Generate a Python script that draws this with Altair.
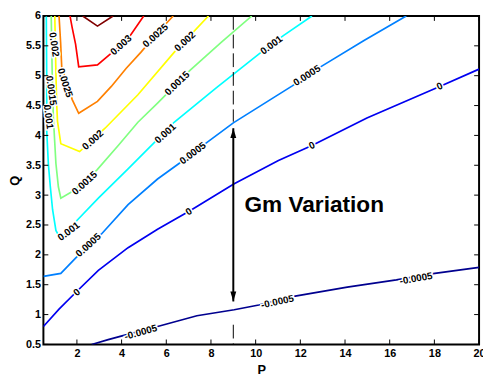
import altair as alt
import pandas as pd

# ---- contour levels and colours ----
levels = ["-0.0005", "0", "0.0005", "0.001", "0.0015", "0.002", "0.0025", "0.003", "0.0035"]
colors = ["#00008f", "#0000f0", "#0080ff", "#00ffff", "#80ff80", "#ffff00", "#ff8000", "#ff0000", "#800000"]

# ---- contour polylines (P, Q) ----
c_m0005_P = [2.66, 3.40, 3.98, 5.61, 7.37, 9.04, 10.14, 11.77, 14.10, 16.30, 18.02, 20.0]
c_m0005_Q = [0.50, 0.58, 0.64, 0.80, 0.98, 1.08, 1.16, 1.31, 1.46, 1.58, 1.69, 1.79]

c_0_P = [0.5, 1.20, 2.00, 2.96, 4.29, 5.61, 7.06, 9.04, 11.02, 12.52, 14.98, 18.24, 20.0]
c_0_Q = [0.80, 1.09, 1.39, 1.74, 2.12, 2.43, 2.74, 3.19, 3.58, 3.83, 4.29, 4.82, 5.11]

c_0005_P = [0.5, 1.28, 1.95, 3.10, 4.29, 5.61, 6.57, 7.81, 9.0, 10.32, 11.64, 12.96, 14.85, 16.74]
c_0005_Q = [1.64, 1.69, 1.95, 2.35, 2.84, 3.27, 3.53, 3.88, 4.21, 4.52, 4.83, 5.16, 5.59, 6.0]

c_001_P = [0.63, 0.65, 0.65, 0.72, 0.81, 0.91, 1.06, 1.28, 2.01, 2.96, 4.29, 5.46, 6.35, 8.25, 10.14, 11.24, 12.52]
c_001_Q = [6.0, 4.90, 4.07, 3.53, 3.14, 2.76, 2.41, 2.26, 2.58, 2.95, 3.44, 3.88, 4.22, 4.80, 5.36, 5.67, 6.0]

c_0015_P = [0.85, 0.90, 0.95, 0.98, 1.06, 1.17, 1.28, 1.79, 2.89, 3.85, 4.73, 5.61, 7.06, 8.47, 9.83]
c_0015_Q = [6.0, 4.90, 4.24, 4.07, 3.53, 3.14, 2.95, 3.06, 3.42, 3.83, 4.22, 4.54, 5.09, 5.56, 6.0]

c_002_P = [1.01, 1.05, 1.09, 1.13, 1.28, 2.12, 3.26, 4.73, 6.35, 7.89]
c_002_Q = [6.0, 5.23, 4.57, 4.24, 3.86, 3.73, 4.12, 4.68, 5.39, 6.0]

c_0025_P = [1.20, 1.27, 1.32, 1.56, 1.79, 2.08, 2.92, 3.54, 4.20, 4.86, 5.61, 6.31]
c_0025_Q = [6.0, 5.56, 5.15, 4.87, 4.60, 4.37, 4.57, 4.82, 5.12, 5.39, 5.72, 6.0]

c_003_P = [1.69, 1.79, 1.94, 2.08, 2.92, 3.49, 4.29, 4.99]
c_003_Q = [6.0, 5.80, 5.53, 5.15, 5.18, 5.36, 5.62, 6.0]

c_0035_P = [2.26, 2.92, 3.62]
c_0035_Q = [6.0, 5.83, 6.0]

contours = [
    ("-0.0005", c_m0005_P, c_m0005_Q),
    ("0", c_0_P, c_0_Q),
    ("0.0005", c_0005_P, c_0005_Q),
    ("0.001", c_001_P, c_001_Q),
    ("0.0015", c_0015_P, c_0015_Q),
    ("0.002", c_002_P, c_002_Q),
    ("0.0025", c_0025_P, c_0025_Q),
    ("0.003", c_003_P, c_003_Q),
    ("0.0035", c_0035_P, c_0035_Q),
]

# ---- contour labels ----
label_text = ["0.003", "0.0025", "0.002", "0.0025", "0.002", "0.0015", "0.001",
              "0.002", "0.0015", "0.0015", "0.001", "0.001", "0.001",
              "0.0005", "0.0005", "0.0005", "0", "0", "0", "0",
              "-0.0005", "-0.0005", "-0.0005"]
label_P = [3.98, 5.52, 6.84, 1.46, 0.97, 0.84, 0.72,
           2.72, 6.49, 2.35, 1.64, 5.96, 10.71,
           2.52, 7.19, 12.30, 2.00, 7.01, 12.52, 18.24,
           4.86, 10.98, 17.18]
label_Q = [5.51, 5.67, 5.57, 4.88, 5.52, 4.75, 4.31,
           3.92, 4.87, 3.20, 2.39, 4.03, 5.51,
           2.16, 3.70, 5.00, 1.37, 2.72, 3.83, 4.82,
           0.70, 1.21, 1.60]
label_angle = [318, 318, 318, 72, 82, 82, 82,
               318, 316, 318, 323, 318, 323,
               318, 323, 327, 320, 327, 335, 335,
               344, 348, 350]

x_ticks = [2, 4, 6, 8, 10, 12, 14, 16, 18, 20]
y_ticks = [0.5, 1, 1.5, 2, 2.5, 3, 3.5, 4, 4.5, 5, 5.5, 6]

# annotation
marker_P = 9
dash_top = [6.0, 4.23]
dash_bottom = [0.83, 0.5]
arrow_Q = [4.12, 1.22]
note_text = "Gm Variation"
note_P, note_Q = 9.5, 2.71

# ---- build tables ----
rows = []
for lev, ps, qs in contours:
    for i, (p, q) in enumerate(zip(ps, qs)):
        rows.append({"level": lev, "i": i, "P": p, "Q": q})
df = pd.DataFrame(rows)

lab = pd.DataFrame({"t": label_text, "P": label_P, "Q": label_Q, "a": label_angle})

W, H = 443, 334
FONT = "Liberation Sans"

xs = alt.Scale(domain=[0.5, 20], nice=False, zero=False)
ys = alt.Scale(domain=[0.5, 6], nice=False, zero=False)
xaxis = alt.Axis(values=x_ticks, title="P", labelFont=FONT, labelFontSize=11,
                 labelFontWeight="bold", labelColor="black", tickSize=0, domain=False,
                 grid=False, labelPadding=3, titleFont=FONT, titleFontSize=13,
                 titleFontWeight="bold", titleColor="black", titlePadding=6,
                 labelFlush=False, labelOverlap=False)
yaxis = alt.Axis(values=y_ticks, title="Q", format="~g", labelFont=FONT, labelFontSize=11,
                 labelFontWeight="bold", labelColor="black", tickSize=0, domain=False,
                 grid=False, labelPadding=3, titleFont=FONT, titleFontSize=13,
                 titleFontWeight="bold", titleColor="black", titlePadding=4,
                 labelFlush=False, labelOverlap=False)
X = alt.X("P:Q", scale=xs, axis=xaxis)
Y = alt.Y("Q:Q", scale=ys, axis=yaxis)

lines = alt.Chart(df).mark_line(strokeWidth=1.7, clip=True).encode(
    x=X, y=Y,
    color=alt.Color("level:N", scale=alt.Scale(domain=levels, range=colors), legend=None),
    detail="level:N",
    order="i:Q",
)

halo = alt.Chart(lab).mark_text(font=FONT, fontSize=10, fontWeight="bold", color="white",
                                stroke="white", strokeWidth=3).encode(
    x=X, y=Y, text="t:N", angle=alt.Angle("a:Q", scale=None))
labels = alt.Chart(lab).mark_text(font=FONT, fontSize=10, fontWeight="bold", color="black").encode(
    x=X, y=Y, text="t:N", angle=alt.Angle("a:Q", scale=None))

dash_df = pd.DataFrame({"P": [marker_P, marker_P], "Q": [dash_top[0], dash_bottom[0]],
                        "Q2": [dash_top[1], dash_bottom[1]]})
dashes = alt.Chart(dash_df).mark_rule(color="black", strokeWidth=1, strokeDash=[14, 5]).encode(
    x=X, y=Y, y2="Q2:Q")

arrow_df = pd.DataFrame({"P": [marker_P], "Q": [arrow_Q[0]], "Q2": [arrow_Q[1]]})
shaft = alt.Chart(arrow_df).mark_rule(color="black", strokeWidth=2).encode(x=X, y=Y, y2="Q2:Q")

head_df = pd.DataFrame({"P": [marker_P, marker_P], "Q": arrow_Q,
                        "s": ["M0,0L0.3,1L-0.3,1Z", "M0,0L0.3,-1L-0.3,-1Z"]})
heads = alt.Chart(head_df).mark_point(filled=True, color="black", size=400, opacity=1,
                                      strokeWidth=0).encode(
    x=X, y=Y, shape=alt.Shape("s:N", scale=None))

note_df = pd.DataFrame({"P": [note_P], "Q": [note_Q], "t": [note_text]})
note = alt.Chart(note_df).mark_text(font=FONT, fontSize=23, fontWeight="bold", align="left",
                                    baseline="alphabetic", color="black").encode(
    x=X, y=Y, text="t:N")

# inward ticks on all four sides
xt_df = pd.DataFrame({"P": x_ticks})
yt_df = pd.DataFrame({"Q": y_ticks})
TL = 5
xt_bottom = alt.Chart(xt_df).mark_rule(color="black", strokeWidth=1).encode(
    x=X, y=alt.value(H), y2=alt.value(H - TL))
xt_top = alt.Chart(xt_df).mark_rule(color="black", strokeWidth=1).encode(
    x=X, y=alt.value(0), y2=alt.value(TL))
yt_left = alt.Chart(yt_df).mark_rule(color="black", strokeWidth=1).encode(
    y=Y, x=alt.value(0), x2=alt.value(TL))
yt_right = alt.Chart(yt_df).mark_rule(color="black", strokeWidth=1).encode(
    y=Y, x=alt.value(W), x2=alt.value(W - TL))

chart = alt.layer(
    lines, halo, labels, dashes, shaft, heads, note, xt_bottom, xt_top, yt_left, yt_right
).properties(
    width=W, height=H,
    padding={"left": 36, "top": 5, "right": 4, "bottom": 29},
    autosize=alt.AutoSizeParams(type="none"),
    background="white",
).configure_view(stroke="black", strokeWidth=2)

chart.save("out.html", embed_options={"renderer": "svg", "actions": False})
